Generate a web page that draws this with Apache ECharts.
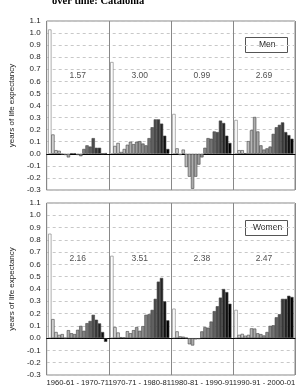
<!DOCTYPE html>
<html>
<head>
<meta charset="utf-8">
<script src="https://cdn.jsdelivr.net/npm/echarts@6/dist/echarts.min.js"></script>
<style>
  html, body { margin: 0; padding: 0; background: #fff; }
  #main { width: 298px; height: 387px; }
</style>
</head>
<body>
<div id="main"></div>
<script>
// periods (one panel each) and the total gain written in each panel
var periods = ['1960-61 - 1970-71', '1970-71 - 1980-81', '1980-81 - 1990-91', '1990-91 - 2000-01'];
var menTotals = ['1.57', '3.00', '0.99', '2.69'];
var womenTotals = ['2.16', '3.51', '2.38', '2.47'];

// contribution by age group (0, 1-4, 5-9 ... 85+), years of life expectancy
var men1960 = [1.03, 0.16, 0.03, 0.025, -0.005, -0.01, -0.03, 0.005, 0.005, -0.01, -0.02, 0.04, 0.07, 0.06, 0.13, 0.05, 0.05, 0.002, 0.006];
var men1970 = [0.76, 0.065, 0.09, 0.015, 0.04, 0.075, 0.10, 0.08, 0.10, 0.105, 0.085, 0.07, 0.13, 0.22, 0.285, 0.285, 0.25, 0.15, 0.04];
var men1980 = [0.33, 0.045, -0.01, 0.035, -0.11, -0.19, -0.29, -0.19, -0.09, -0.03, 0.05, 0.13, 0.125, 0.185, 0.18, 0.275, 0.255, 0.15, 0.09];
var men1990 = [0.28, 0.03, 0.03, 0.005, 0.105, 0.195, 0.305, 0.185, 0.07, 0.035, 0.045, 0.06, 0.165, 0.22, 0.24, 0.26, 0.18, 0.155, 0.125];

var women1960 = [0.85, 0.155, 0.05, 0.027, 0.033, 0.002, 0.065, 0.04, 0.033, 0.068, 0.10, 0.06, 0.122, 0.14, 0.19, 0.15, 0.12, 0.05, -0.03];
var women1970 = [0.67, 0.09, 0.046, 0.008, 0.006, 0.057, 0.04, 0.065, 0.09, 0.06, 0.098, 0.19, 0.195, 0.23, 0.32, 0.46, 0.49, 0.30, 0.145];
var women1980 = [0.24, 0.055, 0.015, 0.012, 0.003, -0.05, -0.06, -0.01, -0.008, 0.055, 0.09, 0.085, 0.135, 0.22, 0.26, 0.33, 0.40, 0.375, 0.28];
var women1990 = [0.23, 0.027, 0.035, 0.02, 0.027, 0.08, 0.078, 0.04, 0.033, 0.022, 0.05, 0.10, 0.105, 0.17, 0.195, 0.32, 0.32, 0.345, 0.335];

// grey shade per age group, light (young) to black (old)
var shades = ['#ffffff', '#d4d4d4', '#cccccc', '#c4c4c4', '#bcbcbc', '#b4b4b4', '#acacac', '#a4a4a4', '#9c9c9c',
  '#949494', '#8c8c8c', '#848484', '#747474', '#606060', '#4c4c4c', '#383838', '#242424', '#101010', '#000000'];

var myChart = echarts.init(document.getElementById('main'));

function buildBars(panels) {
    var res = [];
    for (var p = 0; p < panels.length; p++) {
        for (var k = 0; k < panels[p].length; k++) {
            res.push({
                value: [p * 20 + k + 1, panels[p][k]],
                itemStyle: {color: shades[k], borderColor: k === 0 ? '#777' : '#444'}
            });
        }
    }
    return res;
}

function buildTotals(totals) {
    return totals.map(function (t, p) {
        return {name: t, value: [p * 20 + 10, 0.65]};
    });
}

var font = 'Liberation Sans, Arial, sans-serif';

function yAxisFor(gridIndex) {
    return {
        type: 'value', gridIndex: gridIndex, min: -0.3, max: 1.1, interval: 0.1,
        name: 'years of life expectancy', nameLocation: 'middle', nameGap: 29,
        nameTextStyle: {fontSize: 8, color: '#222', fontFamily: font},
        axisLine: {show: false}, axisTick: {show: false},
        axisLabel: {fontSize: 8, color: '#222', fontFamily: font, margin: 6,
            formatter: function (v) { return (Math.round(v * 10) / 10).toFixed(1); }},
        splitLine: {show: true, lineStyle: {color: '#c8c8c8', type: [3, 3], width: 1}}
    };
}

function dividerAxis(gridIndex) {
    return {
        type: 'value', gridIndex: gridIndex, min: 0, max: 80, interval: 20, position: 'bottom',
        axisLine: {show: true, onZero: true, lineStyle: {color: '#000', width: 1}},
        axisTick: {show: false}, axisLabel: {show: false},
        splitLine: {show: true, lineStyle: {color: '#888', width: 1}}
    };
}

option = {
    animation: false,
    title: {
        text: 'over time: Catalonia', left: 47, top: -9,
        textStyle: {fontSize: 10.5, fontWeight: 'bold', fontFamily: 'Liberation Serif, Times New Roman, serif', color: '#000'}
    },
    grid: [
        {left: 32, right: 3, top: 21, height: 169, show: true, borderColor: '#888', borderWidth: 1},
        {left: 32, right: 3, top: 203, height: 172, show: true, borderColor: '#888', borderWidth: 1}
    ],
    xAxis: [
        dividerAxis(0),
        dividerAxis(1),
        {
            type: 'value', gridIndex: 1, min: 0, max: 80, interval: 10, position: 'bottom',
            axisLine: {show: false, onZero: false}, axisTick: {show: false}, splitLine: {show: false},
            axisLabel: {fontSize: 7.6, color: '#222', fontFamily: font, margin: 4,
                formatter: function (v) {
                    var i = (v - 10) / 20;
                    return (i >= 0 && i % 1 === 0 && periods[i]) ? periods[i] : '';
                }}
        }
    ],
    yAxis: [yAxisFor(0), yAxisFor(1)],
    series: [
        {
            name: 'Men', type: 'bar', xAxisIndex: 0, yAxisIndex: 0,
            barWidth: 3.3, itemStyle: {borderWidth: 0.6},
            data: buildBars([men1960, men1970, men1980, men1990])
        },
        {
            name: 'Women', type: 'bar', xAxisIndex: 1, yAxisIndex: 1,
            barWidth: 3.3, itemStyle: {borderWidth: 0.6},
            data: buildBars([women1960, women1970, women1980, women1990])
        },
        {
            type: 'scatter', xAxisIndex: 0, yAxisIndex: 0, symbolSize: 1,
            itemStyle: {color: 'rgba(0,0,0,0)'},
            label: {show: true, position: 'inside', formatter: '{b}', fontSize: 8.5, color: '#222', fontFamily: font},
            data: buildTotals(menTotals)
        },
        {
            type: 'scatter', xAxisIndex: 1, yAxisIndex: 1, symbolSize: 1,
            itemStyle: {color: 'rgba(0,0,0,0)'},
            label: {show: true, position: 'inside', formatter: '{b}', fontSize: 8.5, color: '#222', fontFamily: font},
            data: buildTotals(womenTotals)
        }
    ],
    graphic: [
        {type: 'rect', left: 245, top: 37, shape: {width: 42, height: 15}, style: {fill: '#fff', stroke: '#555', lineWidth: 1}},
        {type: 'text', left: 259, top: 40, style: {text: 'Men', fontSize: 8.5, fontFamily: font, fill: '#222'}},
        {type: 'rect', left: 245, top: 220, shape: {width: 42, height: 15}, style: {fill: '#fff', stroke: '#555', lineWidth: 1}},
        {type: 'text', left: 253, top: 223, style: {text: 'Women', fontSize: 8.5, fontFamily: font, fill: '#222'}}
    ]
};

myChart.setOption(option);
window.addEventListener('resize', function () {
    myChart.resize();
});
</script>
</body>
</html>
